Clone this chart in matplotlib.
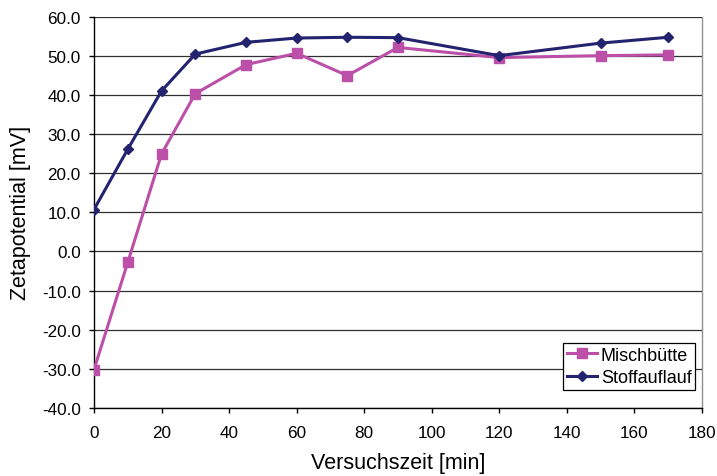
import matplotlib as mpl
import matplotlib.pyplot as plt
import numpy as np

mpl.rcParams['font.family'] = ['Liberation Sans', 'DejaVu Sans']

# sampling times and zeta potentials
zeit = [0, 10, 20, 30, 45, 60, 75, 90, 120, 150, 170]
mischbuette = [-30.2, -2.8, 24.9, 40.3, 47.7, 50.6, 44.9, 52.1, 49.5, 50.0, 50.2]
stoffauflauf = [10.7, 26.1, 41.0, 50.4, 53.4, 54.5, 54.7, 54.6, 50.0, 53.2, 54.7]

fig = plt.figure(figsize=(7.17, 4.77), dpi=100)
fig.patch.set_facecolor('w')
ax = fig.add_axes([0.1311, 0.1426, 0.8479, 0.8207])

ax.plot(zeit, mischbuette, color='#BC4FA8', lw=2.2, marker='s', ms=7.5,
        label='Mischbütte', zorder=3)
ax.plot(zeit, stoffauflauf, color='#23236F', lw=2.2, marker='D', ms=4.8,
        label='Stoffauflauf', zorder=4)

ax.set_xlim(0, 180)
ax.set_ylim(-40, 60)
ax.set_xticks(np.arange(0, 181, 20))
ax.set_yticks(np.arange(-40, 61, 10))
ax.set_yticklabels(['%.1f' % v for v in np.arange(-40, 61, 10)])
ax.tick_params(labelsize=12.3, length=3.6, width=1, direction='out', colors='black')
ax.tick_params(axis='y', pad=6)
ax.tick_params(axis='x', pad=9)

ax.grid(True, axis='y', color='#303030', lw=0.9)
ax.set_axisbelow(True)
for s in ['left', 'bottom']:
    ax.spines[s].set_color('black')
    ax.spines[s].set_linewidth(1.0)
ax.spines['top'].set_visible(False)
ax.spines['right'].set_color('#909090')
ax.spines['right'].set_linewidth(1.0)

ax.set_xlabel('Versuchszeit [min]', fontsize=15.5)
ax.set_ylabel('Zetapotential [mV]', fontsize=15.5)
ax.xaxis.set_label_coords(0.5, -0.112)
ax.yaxis.set_label_coords(-0.103, 0.5)

leg = ax.legend(loc='upper left', bbox_to_anchor=(563 / 717, 1 - 344 / 477),
                bbox_transform=fig.transFigure, fontsize=13,
                frameon=True, fancybox=False, edgecolor='black', framealpha=1,
                borderpad=0.2, labelspacing=0.3, handlelength=1.7,
                handletextpad=0.2, borderaxespad=0.0)
leg.get_frame().set_linewidth(0.9)

plt.savefig('out.png', dpi=100, facecolor=fig.get_facecolor())
